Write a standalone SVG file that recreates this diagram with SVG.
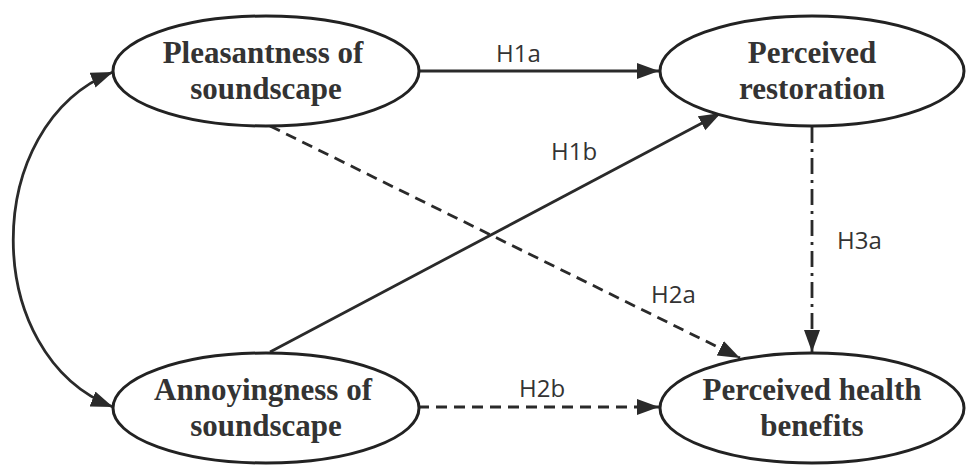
<svg xmlns="http://www.w3.org/2000/svg" width="980" height="475" viewBox="0 0 980 475">
<style>
.node ellipse{fill:#fff;stroke:#222;stroke-width:3}
.node text{font-family:"Liberation Serif","Times New Roman",serif;font-weight:bold;font-size:31px;fill:#333;text-anchor:middle}
.edge{fill:none;stroke:#2a2a2a;stroke-width:2.8}
.dash{stroke-dasharray:11 7}
.dashdot{stroke-dasharray:16 6 3 6}
.lbl{font-family:"Open Sans","Noto Sans","Liberation Sans",sans-serif;font-size:24px;fill:#333}
</style>
<defs>
<marker id="arr" markerUnits="userSpaceOnUse" markerWidth="24" markerHeight="18" refX="22" refY="8" orient="auto-start-reverse">
<path d="M0,0 L22,8 L0,16 z" fill="#2a2a2a"/>
</marker>
</defs>
<g id="connectors">
<path class="edge" d="M113,72 C-20,125 -20,355 113,407" marker-start="url(#arr)" marker-end="url(#arr)"/>
<line class="edge" x1="418" y1="71" x2="659" y2="71" marker-end="url(#arr)"/>
<line class="edge" x1="270" y1="352" x2="721" y2="113" marker-end="url(#arr)"/>
<line class="edge dash" x1="270" y1="126" x2="740" y2="358" marker-end="url(#arr)"/>
<line class="edge dash" x1="418" y1="407" x2="659" y2="407" marker-end="url(#arr)"/>
<line class="edge dashdot" x1="812" y1="127" x2="812" y2="352" marker-end="url(#arr)"/>
<text class="lbl" x="496" y="62">H1a</text>
<text class="lbl" x="551" y="160">H1b</text>
<text class="lbl" x="837" y="249">H3a</text>
<text class="lbl" x="651" y="303">H2a</text>
<text class="lbl" x="519" y="397">H2b</text>
</g>
<g id="pleasantness" class="node">
<ellipse cx="266" cy="71" rx="153" ry="55"/>
<text x="263" y="63">Pleasantness of</text>
<text x="266" y="99">soundscape</text>
</g>
<g id="restoration" class="node">
<ellipse cx="812" cy="71" rx="152" ry="55"/>
<text x="812" y="63">Perceived</text>
<text x="812" y="99">restoration</text>
</g>
<g id="annoyingness" class="node">
<ellipse cx="266" cy="408" rx="153" ry="55"/>
<text x="263" y="400">Annoyingness of</text>
<text x="266" y="436">soundscape</text>
</g>
<g id="health" class="node">
<ellipse cx="812" cy="408" rx="152" ry="55"/>
<text x="812" y="400">Perceived health</text>
<text x="812" y="436">benefits</text>
</g>
</svg>
